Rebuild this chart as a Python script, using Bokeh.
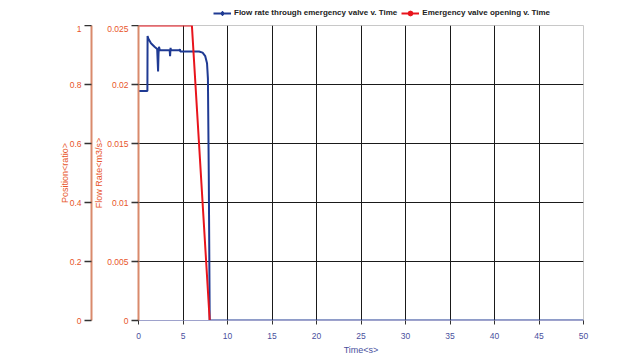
from bokeh.plotting import figure
from bokeh.layouts import column, row, Spacer
from bokeh.models import (Range1d, LinearAxis, FixedTicker, CustomJSTickFormatter,
                          Legend, LegendItem)
from bokeh.embed import file_html
from bokeh.resources import INLINE

# ---- data ----
flow_time = [0, 1.0, 1.02, 1.1, 1.4, 1.8, 2.1, 2.2, 2.25, 2.3, 2.4, 2.6, 3.0, 3.5,
             3.55, 3.6, 3.65, 3.7, 4.0, 4.6, 4.65, 4.7, 5.0, 6.0, 6.8, 7.2, 7.5,
             7.7, 7.8, 7.9, 8.0, 50]
flow_rate = [0.01945, 0.01945, 0.0241, 0.0239, 0.0235, 0.0232, 0.0230, 0.0211, 0.0226,
             0.0232, 0.0229, 0.0229, 0.0229, 0.0229, 0.0224, 0.0231, 0.0229, 0.0229,
             0.0229, 0.0229, 0.0230, 0.0228, 0.0228, 0.0228, 0.0228, 0.0227, 0.0224,
             0.0218, 0.0205, 0.0120, 0.0, 0.0]
valve_time = [0, 6.0, 8.0]
valve_pos = [1.0, 1.0, 0.0]

series_labels = ["Flow rate through emergency valve v. Time", "Emergency valve opening v. Time"]
x_ticks = [0, 5, 10, 15, 20, 25, 30, 35, 40, 45, 50]
flow_ticks = [0, 0.005, 0.01, 0.015, 0.02, 0.025]
pos_ticks = [0, 0.2, 0.4, 0.6, 0.8, 1.0]
grid_x = [5, 10, 15, 20, 25, 30, 35, 40, 45]
grid_y = [0.005, 0.01, 0.015, 0.02]

ORANGE = "#e8552a"
AXLINE = "#d98a6c"
XBLUE = "#4a509e"
BLUE = "#1f3a93"
RED = "#e8141c"
FONT = "Liberation Sans"

# ---------------- main chart ----------------
p = figure(width=632, height=332, output_backend="svg", toolbar_location=None,
           x_range=Range1d(0, 50), y_range=Range1d(0, 0.025),
           min_border_left=138, min_border_right=49, min_border_top=0, min_border_bottom=0,
           outline_line_color="#c8c8c8")
p.extra_y_ranges = {"pos": Range1d(0, 1)}

fmt = CustomJSTickFormatter(code="return String(Math.round(tick*1000)/1000);")

xa = p.xaxis[0]
xa.ticker = FixedTicker(ticks=x_ticks)
xa.formatter = fmt
xa.axis_label = "Time<s>"
xa.axis_line_color = "#9ea2cc"
xa.major_tick_line_color = "#333333"
xa.major_tick_out = 4
xa.major_tick_in = 0
xa.minor_tick_line_color = None
xa.major_label_text_color = XBLUE
xa.major_label_text_font = FONT
xa.major_label_text_font_size = "8.5px"
xa.major_label_standoff = 8
xa.axis_label_text_color = XBLUE
xa.axis_label_text_font = FONT
xa.axis_label_text_font_size = "9px"
xa.axis_label_text_font_style = "normal"
xa.axis_label_standoff = 3

ya = p.yaxis[0]
ya.ticker = FixedTicker(ticks=flow_ticks)
ya.formatter = fmt
ya.axis_label = "Flow Rate<m3/s>"

pa = LinearAxis(y_range_name="pos", axis_label="Position<ratio>",
                ticker=FixedTicker(ticks=pos_ticks), formatter=fmt)
p.add_layout(pa, "left")

for ax in (ya, pa):
    ax.axis_line_color = AXLINE
    ax.axis_line_width = 2
    ax.major_tick_line_color = "#333333"
    ax.major_tick_line_width = 1.5
    ax.major_tick_out = 7
    ax.major_tick_in = 0
    ax.minor_tick_line_color = None
    ax.major_label_text_color = ORANGE
    ax.major_label_text_font = FONT
    ax.major_label_text_font_size = "8.5px"
    ax.major_label_standoff = 3
    ax.axis_label_text_color = ORANGE
    ax.axis_label_text_font = FONT
    ax.axis_label_text_font_size = "9px"
    ax.axis_label_text_font_style = "normal"
    ax.axis_label_standoff = 0
pa.axis_label_standoff = -3

p.xgrid.ticker = FixedTicker(ticks=grid_x)
p.ygrid.ticker = FixedTicker(ticks=grid_y)
for g in (p.xgrid[0], p.ygrid[0]):
    g.grid_line_color = "#1a1a1a"
    g.grid_line_width = 1

p.line(flow_time, flow_rate, line_color=BLUE, line_width=2)
p.line(valve_time, valve_pos, line_color=RED, line_width=2, y_range_name="pos")

# ---------------- legend strip above (series drawn out of view; only legend shows) ----------------
lg = figure(width=400, height=25, output_backend="svg", toolbar_location=None,
            x_range=Range1d(1000, 1001), y_range=Range1d(1000, 1001),
            x_axis_location=None, y_axis_location=None,
            min_border_left=0, min_border_right=0, min_border_top=0, min_border_bottom=0,
            outline_line_color=None)
lg.xgrid.visible = False
lg.ygrid.visible = False
bl = lg.line(flow_time, flow_rate, line_color=BLUE, line_width=2)
bm = lg.scatter(flow_time, flow_rate, marker="diamond", size=8, fill_color=BLUE, line_color=BLUE)
rl = lg.line(valve_time, valve_pos, line_color=RED, line_width=2)
rm = lg.scatter(valve_time, valve_pos, marker="circle", size=6, fill_color=RED, line_color=RED)

legend = Legend(items=[
    LegendItem(label=series_labels[0], renderers=[bl, bm]),
    LegendItem(label=series_labels[1], renderers=[rl, rm]),
], orientation="horizontal", location="left")
legend.label_text_font = FONT
legend.label_text_font_style = "bold"
legend.label_text_font_size = "8px"
legend.label_text_color = "#222222"
legend.glyph_width = 18
legend.glyph_height = 12
legend.label_standoff = 3
legend.spacing = 4
legend.padding = 2
legend.margin = 0
legend.background_fill_alpha = 0
legend.border_line_alpha = 0
lg.add_layout(legend, "center")

layout = column(row(Spacer(width=211, height=25), lg, spacing=0), p, spacing=0)
open("out.html", "w").write(file_html(layout, INLINE))
